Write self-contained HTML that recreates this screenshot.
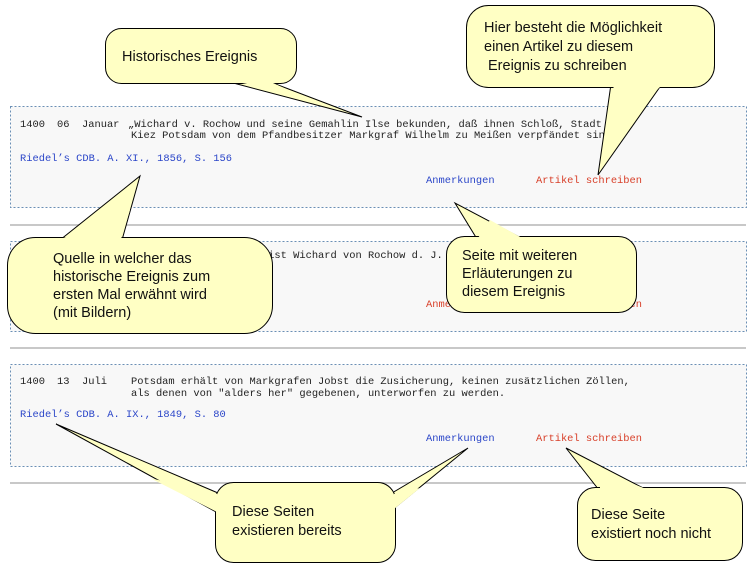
<!DOCTYPE html>
<html><head><meta charset="utf-8"><style>
html,body{margin:0;padding:0;background:#fff;}
svg{display:block;}
.m{font-family:"Liberation Mono",monospace;font-size:10.4px;fill:#222;}
.b{fill:#2a45c8;}
.r{fill:#d8402a;}
.c{font-family:"Liberation Sans",Arial,sans-serif;font-size:14.5px;fill:#111;}
.f{fill:#ffffc4;}
</style></head><body>
<svg width="754" height="567" viewBox="0 0 754 567" xmlns="http://www.w3.org/2000/svg">
<rect x="10.5" y="106.5" width="736" height="101" fill="#f8f8f8" stroke="#6a8fb5" stroke-dasharray="2,2"/>
<line x1="10" y1="225" x2="746" y2="225" stroke="#c8c8c8" stroke-width="2"/>
<rect x="10.5" y="241.5" width="736" height="90" fill="#f8f8f8" stroke="#6a8fb5" stroke-dasharray="2,2"/>
<line x1="10" y1="348" x2="746" y2="348" stroke="#c8c8c8" stroke-width="2"/>
<rect x="10.5" y="364.5" width="736" height="102" fill="#f8f8f8" stroke="#6a8fb5" stroke-dasharray="2,2"/>
<line x1="10" y1="483" x2="746" y2="483" stroke="#c8c8c8" stroke-width="2"/>

<text class="m" x="20" y="127">1400</text><text class="m" x="57" y="127">06</text><text class="m" x="82" y="127">Januar</text>
<text class="m" x="128" y="127">„Wichard v. Rochow und seine Gemahlin Ilse bekunden, daß ihnen Schloß, Stadt und</text>
<text class="m" x="131" y="138">Kiez Potsdam von dem Pfandbesitzer Markgraf Wilhelm zu Meißen verpfändet sind.</text>
<text class="m b" x="20" y="161">Riedel’s CDB. A. XI., 1856, S. 156</text>
<text class="m b" x="426" y="183">Anmerkungen</text>
<text class="m r" x="536" y="183">Artikel schreiben</text>

<text class="m" x="20" y="258">1400</text>
<text class="m" x="131" y="258">Laut Urkunde aus Kemp ist Wichard von Rochow d. J. Besitzer</text>
<text class="m r" x="20" y="282">Riedel’s CDB. A. XI., 1856, S. 14</text>
<text class="m r" x="426" y="307">Anmerkungen</text>
<text class="m r" x="536" y="307">Artikel schreiben</text>

<text class="m" x="20" y="384">1400</text><text class="m" x="57" y="384">13</text><text class="m" x="82" y="384">Juli</text>
<text class="m" x="131" y="384">Potsdam erhält von Markgrafen Jobst die Zusicherung, keinen zusätzlichen Zöllen,</text>
<text class="m" x="131" y="396">als denen von "alders her" gegebenen, unterworfen zu werden.</text>
<text class="m b" x="20" y="417">Riedel’s CDB. A. IX., 1849, S. 80</text>
<text class="m b" x="426" y="441">Anmerkungen</text>
<text class="m r" x="536" y="441">Artikel schreiben</text>

<g stroke="#000" stroke-width="1">
<polygon class="f" points="222,80 265,80 362,117"/>
<rect class="f" x="105.5" y="28.5" width="191" height="55" rx="16"/>
<polygon class="f" stroke="none" points="223,79 264,79 300,95"/>

<polygon class="f" points="611,84 662,84 598,175"/>
<rect class="f" x="466.5" y="5.5" width="248" height="82" rx="22"/>
<polygon class="f" stroke="none" points="612,86 661,86 636,110"/>

<polygon class="f" points="60,240 122,240 140,176"/>
<rect class="f" x="7.5" y="237.5" width="265" height="96" rx="28"/>
<polygon class="f" stroke="none" points="61,239 121,239 130,210"/>

<polygon class="f" points="477,239 523,239 455,203"/>
<rect class="f" x="446.5" y="236.5" width="190" height="76" rx="18"/>
<polygon class="f" stroke="none" points="478,238 522,238 490,220"/>

<polygon class="f" points="218,493 218,513 56,424"/>
<polygon class="f" points="392,493 392,510 468,448"/>
<rect class="f" x="215.5" y="482.5" width="180" height="80" rx="18"/>
<polygon class="f" stroke="none" points="217,494 217,512 150,478"/>
<polygon class="f" stroke="none" points="394,494 394,509 420,488"/>

<polygon class="f" points="599,490 647,490 566,448"/>
<rect class="f" x="577.5" y="487.5" width="165" height="73" rx="18"/>
<polygon class="f" stroke="none" points="600,489 646,489 600,470"/>
</g>

<text class="c" x="122" y="61">Historisches Ereignis</text>
<text class="c" x="484" y="32">Hier besteht die Möglichkeit</text>
<text class="c" x="484" y="51">einen Artikel zu diesem</text>
<text class="c" x="488" y="70">Ereignis zu schreiben</text>
<text class="c" x="53" y="263">Quelle in welcher das</text>
<text class="c" x="53" y="281">historische Ereignis zum</text>
<text class="c" x="53" y="299">ersten Mal erwähnt wird</text>
<text class="c" x="53" y="317">(mit Bildern)</text>
<text class="c" x="462" y="260">Seite mit weiteren</text>
<text class="c" x="462" y="278">Erläuterungen zu</text>
<text class="c" x="462" y="296">diesem Ereignis</text>
<text class="c" x="232" y="516">Diese Seiten</text>
<text class="c" x="232" y="535">existieren bereits</text>
<text class="c" x="591" y="519">Diese Seite</text>
<text class="c" x="591" y="538">existiert noch nicht</text>
</svg>
</body></html>
